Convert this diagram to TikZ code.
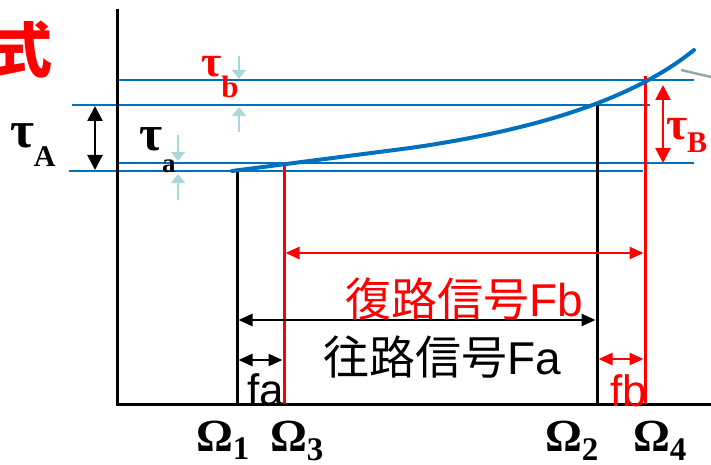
\documentclass[tikz,border=0pt]{standalone}
\usepackage{fontspec}
\setmainfont{Liberation Serif}
\setsansfont{Liberation Sans}
\newfontfamily\cjk{Noto Sans CJK JP}
\usetikzlibrary{arrows.meta}
\definecolor{lineblue}{HTML}{0070C0}
\definecolor{pptred}{HTML}{FF0000}
\definecolor{tickblue}{HTML}{A9D9DC}
\definecolor{grayline}{HTML}{92A9A9}
\newcommand\subl[5]{{\fontsize{#2}{#2}\selectfont #1}\raisebox{-#5pt}{\fontsize{#4}{#4}\selectfont #3}}
\tikzset{
  axisline/.style={line width=3pt,black},
  hline/.style={line width=2pt,lineblue},
  curveline/.style={line width=4pt,lineblue,line cap=round},
  vblack/.style={line width=3pt,black},
  vred/.style={line width=3pt,pptred},
  dimarrow/.style={line width=2.5pt,{Triangle[length=14pt,width=12pt]}-{Triangle[length=14pt,width=12pt]}},
  bigdim/.style={line width=2.5pt,{Triangle[length=15pt,width=15pt]}-{Triangle[length=15pt,width=15pt]}},
  tickarrow/.style={line width=2pt,tickblue,-{Triangle[length=9pt,width=14pt]}},
  lbl/.style={inner sep=0pt,outer sep=0pt,anchor=base west},
}
\begin{document}
\begin{tikzpicture}[x=1pt,y=-1pt]
\useasboundingbox (0,0) rectangle (711,465);
% coordinates
\coordinate (axTop) at (117,9);
\coordinate (orig) at (117,404);
\coordinate (axEnd) at (711,404);
\coordinate (O1t) at (237,171); \coordinate (O1b) at (237,404);
\coordinate (O3t) at (284,165); \coordinate (O3b) at (284,404);
\coordinate (O2t) at (597,105); \coordinate (O2b) at (597,404);
\coordinate (O4t) at (645,76);  \coordinate (O4b) at (645,404);
% blue horizontal lines
\coordinate (h1a) at (117,80);  \coordinate (h1b) at (694,80);
\coordinate (h2a) at (72,105);  \coordinate (h2b) at (650,105);
\coordinate (h3a) at (117,163); \coordinate (h3b) at (694,163);
\coordinate (h4a) at (69,171);  \coordinate (h4b) at (643,171);
\draw[hline] (h1a) -- (h1b);
\draw[hline] (h2a) -- (h2b);
\draw[hline] (h3a) -- (h3b);
\draw[hline] (h4a) -- (h4b);
% axes
\draw[axisline] (axTop) -- (orig) -- (axEnd);
% verticals
\draw[vblack] (O1t) -- (O1b);
\draw[vred] (O3t) -- (O3b);
\draw[vblack] (O2t) -- (O2b);
\draw[vred] (O4t) -- (O4b);
% curve
\coordinate (c0) at (232,171); \coordinate (c1) at (410,148); \coordinate (c2) at (694,50);
\draw[curveline] (c0) -- (c1) .. controls (500,135) and (620,110) .. (c2);
% gray line
\coordinate (g1) at (681,70); \coordinate (g2) at (711,77);
\draw[grayline,line width=2.5pt] (g1) -- (g2);
% dimension arrows
\coordinate (r1) at (285.5,253); \coordinate (r2) at (643.5,253);
\draw[dimarrow,pptred] (r1) -- (r2);
\coordinate (k1) at (238.5,320); \coordinate (k2) at (595.5,320);
\draw[dimarrow] (k1) -- (k2);
\coordinate (fa1) at (238.5,360); \coordinate (fa2) at (282.5,360);
\draw[dimarrow] (fa1) -- (fa2);
\coordinate (fb1) at (598.5,359); \coordinate (fb2) at (643.5,359);
\draw[dimarrow,pptred] (fb1) -- (fb2);
\coordinate (tA1) at (95,106); \coordinate (tA2) at (95,170);
\draw[bigdim] (tA1) -- (tA2);
\coordinate (tB1) at (663,85); \coordinate (tB2) at (663,163);
\draw[bigdim,pptred] (tB1) -- (tB2);
% light blue ticks
\coordinate (ta1) at (178,135); \coordinate (ta2) at (178,161);
\coordinate (ta3) at (178,200); \coordinate (ta4) at (178,174);
\draw[tickarrow] (ta1) -- (ta2);
\draw[tickarrow] (ta3) -- (ta4);
\coordinate (tb1) at (239,56); \coordinate (tb2) at (239,79);
\coordinate (tb3) at (239,132); \coordinate (tb4) at (239,107);
\draw[tickarrow] (tb1) -- (tb2);
\draw[tickarrow] (tb3) -- (tb4);
% labels
\node[inner sep=0pt,anchor=base east,text=pptred,font={\cjk\bfseries\fontsize{60}{60}\selectfont}] (shiki) at (53,73) {式};
\node[lbl,font=\bfseries] (tauA) at (10,148) {\subl{τ}{52}{A}{30}{19}};
\node[lbl,font=\bfseries] (taua) at (139,151) {\subl{τ}{50}{a}{27}{21}};
\node[lbl,font=\bfseries,text=pptred] (taub) at (201,77) {\subl{τ}{44}{b}{31}{21}};
\node[lbl,font=\bfseries,text=pptred] (tauB) at (666,140) {\subl{τ}{46}{B}{30}{13}};
\node[lbl,font=\bfseries] (om1) at (196,451) {\subl{Ω}{46}{1}{33}{8}};
\node[lbl,font=\bfseries] (om3) at (270,451) {\subl{Ω}{46}{3}{33}{9}};
\node[lbl,font=\bfseries] (om2) at (545,451) {\subl{Ω}{46}{2}{33}{9}};
\node[lbl,font=\bfseries] (om4) at (633,451) {\subl{Ω}{46}{4}{33}{9}};
\node[lbl,text=pptred,font={\sffamily\fontsize{46}{46}\selectfont}] (fbtxt) at (345,316) {{\cjk 復路信号}Fb};
\node[lbl,font={\sffamily\fontsize{46}{46}\selectfont}] (fatxt) at (323,374) {{\cjk 往路信号}Fa};
\node[lbl,font={\sffamily\fontsize{44}{44}\selectfont}] (fa) at (247,405) {fa};
\node[lbl,text=pptred,font={\sffamily\fontsize{44}{44}\selectfont}] (fb) at (610,406) {fb};
\end{tikzpicture}
\end{document}
